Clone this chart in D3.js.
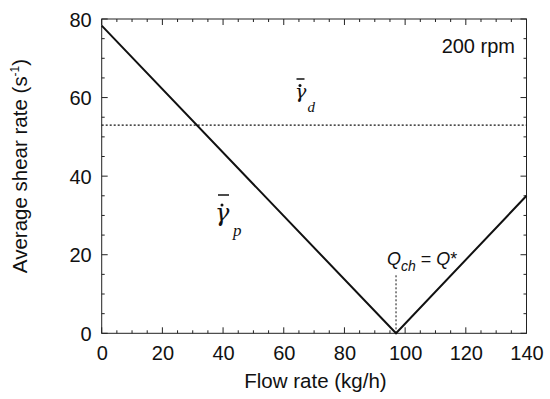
<!DOCTYPE html>
<html><head><meta charset="utf-8">
<script src="https://cdn.jsdelivr.net/npm/d3@7"></script>
<style>body{margin:0;background:#fff}svg{display:block}</style>
</head><body>
<svg id="c" width="550" height="399"></svg>
<script>
const flowRate = [0, 97, 140];
const shearP = [78.3, 0, 35];
const shearD = 53;
const qCh = 97;
const qChTop = 15;
const xTicks = [0, 20, 40, 60, 80, 100, 120, 140];
const yTicks = [0, 20, 40, 60, 80];

const svg = d3.select('#c');
const m = {l: 101.7, r: 526.5, t: 19, b: 333.3};
const x = d3.scaleLinear().domain([0, 140]).range([m.l, m.r]);
const y = d3.scaleLinear().domain([0, 80]).range([m.b, m.t]);
const font = "'Liberation Sans', Arial, sans-serif";
const fs = 20;

// frame
svg.append('rect').attr('x', m.l).attr('y', m.t).attr('width', m.r - m.l).attr('height', m.b - m.t)
  .attr('fill', 'none').attr('stroke', '#222').attr('stroke-width', 1);

const xMinor = d3.range(0, 141, 5);
const yMinor = d3.range(0, 81, 5);
const tickG = svg.append('g').attr('stroke', '#222').attr('stroke-width', 1);
xMinor.forEach(v => {
  const len = v % 20 === 0 ? 6 : 3;
  tickG.append('line').attr('x1', x(v)).attr('x2', x(v)).attr('y1', m.b).attr('y2', m.b - len);
  tickG.append('line').attr('x1', x(v)).attr('x2', x(v)).attr('y1', m.t).attr('y2', m.t + len);
});
yMinor.forEach(v => {
  const len = v % 20 === 0 ? 6 : 3;
  tickG.append('line').attr('y1', y(v)).attr('y2', y(v)).attr('x1', m.l).attr('x2', m.l + len);
  tickG.append('line').attr('y1', y(v)).attr('y2', y(v)).attr('x1', m.r).attr('x2', m.r - len);
});

const xAxis = svg.append('g').attr('transform', `translate(0,${m.b})`)
  .call(d3.axisBottom(x).tickValues(xTicks).tickSize(0).tickPadding(0));
const yAxis = svg.append('g').attr('transform', `translate(${m.l},0)`)
  .call(d3.axisLeft(y).tickValues(yTicks).tickSize(0).tickPadding(10));
[xAxis, yAxis].forEach(a => {
  a.select('.domain').remove();
  a.selectAll('text').attr('font-family', font).attr('font-size', fs).attr('fill', '#111');
});
xAxis.selectAll('text').attr('y', 27).attr('dy', 0);
yAxis.selectAll('text').attr('dy', '0.35em');

svg.append('text').attr('x', 315.5).attr('y', 388).attr('text-anchor', 'middle')
  .attr('font-family', font).attr('font-size', 20.5).attr('fill', '#111').text('Flow rate (kg/h)');
const yt = svg.append('text').attr('transform', `translate(27,166) rotate(-90)`)
  .attr('text-anchor', 'middle').attr('font-family', font).attr('font-size', 20.5).attr('fill', '#111');
yt.append('tspan').text('Average shear rate (s');
yt.append('tspan').attr('font-size', 12).attr('dy', -8).text('-1');
yt.append('tspan').attr('dy', 8).text(')');

// main line
const line = d3.line().x((d, i) => x(flowRate[i])).y(d => y(d));
svg.append('path').datum(shearP).attr('d', line).attr('fill', 'none').attr('stroke', '#111').attr('stroke-width', 2);

// dotted
svg.append('line').attr('x1', x(0)).attr('x2', x(140)).attr('y1', y(shearD)).attr('y2', y(shearD))
  .attr('stroke', '#111').attr('stroke-width', 1.3).attr('stroke-dasharray', '2,2');
svg.append('line').attr('x1', x(qCh)).attr('x2', x(qCh)).attr('y1', y(0)).attr('y2', y(qChTop))
  .attr('stroke', '#111').attr('stroke-width', 1).attr('stroke-dasharray', '2,2');

// 200 rpm
svg.append('text').attr('x', 515).attr('y', 53).attr('text-anchor', 'end')
  .attr('font-family', font).attr('font-size', fs).attr('fill', '#111').text('200 rpm');

// gamma labels
function gamma(gx, gy, size, sub, sx, sy, subSize, dotX, dotY, barX1, barX2, barY) {
  const serif = "'Liberation Serif', 'Times New Roman', serif";
  const g = svg.append('g');
  g.append('text').attr('x', gx).attr('y', gy).attr('font-family', "'DejaVu Serif', serif").attr('font-style', 'italic')
    .attr('font-size', size).attr('fill', '#111').text('γ');
  g.append('circle').attr('cx', dotX).attr('cy', dotY).attr('r', 1.5).attr('fill', '#111');
  g.append('line').attr('x1', barX1).attr('x2', barX2).attr('y1', barY).attr('y2', barY)
    .attr('stroke', '#111').attr('stroke-width', 1.5);
  g.append('text').attr('x', sx).attr('y', sy).attr('font-family', serif).attr('font-style', 'italic')
    .attr('font-size', subSize).attr('fill', '#111').text(sub);
}
gamma(295, 98, 19, 'd', 307.5, 112, 15, 300, 85.5, 296.5, 304.5, 79);
gamma(215, 221, 24, 'p', 233, 236, 17, 222, 205, 218, 229, 195);

// Q label
const q = svg.append('text').attr('x', 387).attr('y', 265).attr('font-family', font)
  .attr('font-style', 'italic').attr('font-size', 18).attr('fill', '#111');
q.append('tspan').text('Q');
q.append('tspan').attr('font-size', 14).attr('dy', 6).text('ch');
q.append('tspan').attr('dy', -6).attr('font-style', 'normal').text(' = ');
q.append('tspan').text('Q');
q.append('tspan').attr('font-style', 'normal').text('*');
</script>
</body></html>
